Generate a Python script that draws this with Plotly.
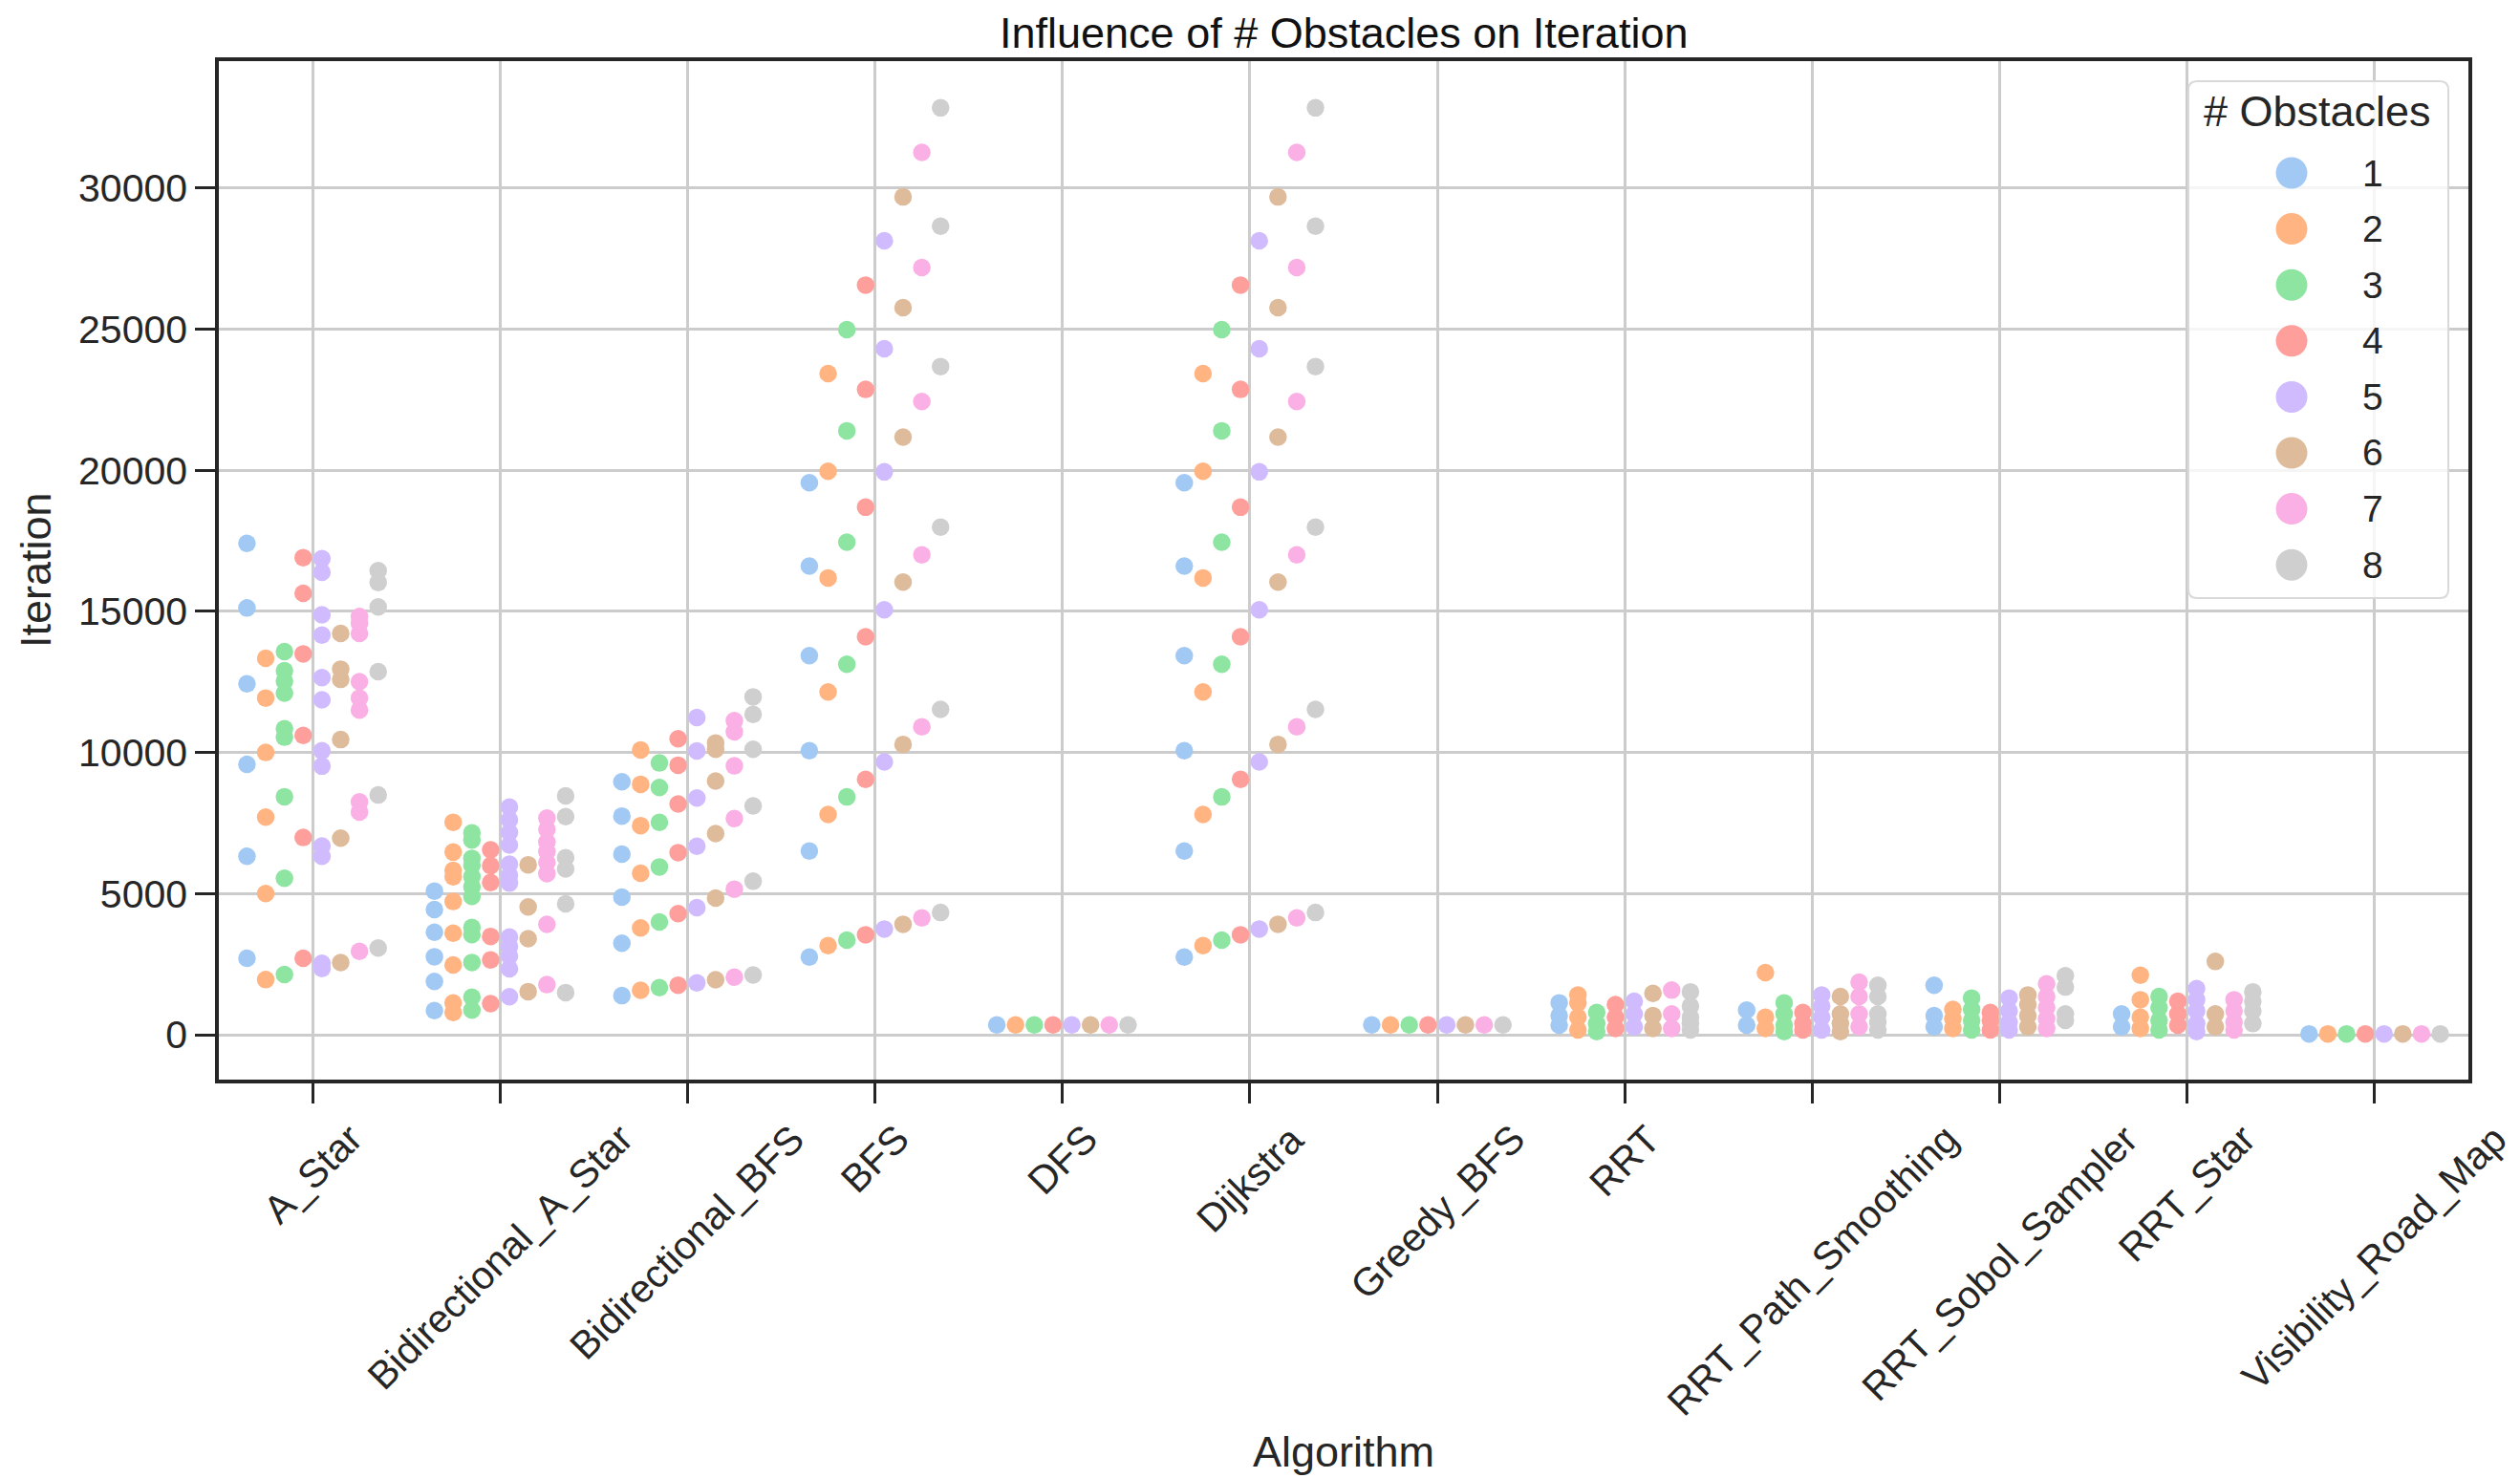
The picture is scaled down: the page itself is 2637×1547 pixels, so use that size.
import plotly.graph_objects as go

# ---------------- data ----------------
algorithms = ["A_Star", "Bidirectional_A_Star", "Bidirectional_BFS", "BFS", "DFS",
              "Dijkstra", "Greedy_BFS", "RRT", "RRT_Path_Smoothing",
              "RRT_Sobol_Sampler", "RRT_Star", "Visibility_Road_Map"]
obstacles = ["1", "2", "3", "4", "5", "6", "7", "8"]
palette = ["#a1c9f4", "#ffb482", "#8de5a1", "#ff9f9b",
           "#d0bbff", "#debb9b", "#fab0e4", "#cfcfcf"]

# one list per # obstacles (1..8) for each algorithm
a_star = [
    [17410, 15120, 12434, 9578, 6325, 2711],
    [13337, 11928, 10000, 7711, 5000, 1952],
    [13578, 12900, 12530, 12100, 10843, 10542, 8434, 5542, 2133],
    [16904, 15639, 13494, 10602, 6988, 2711],
    [16867, 16386, 14880, 14157, 12651, 11867, 10060, 9518, 6687, 6325, 2530, 2349],
    [14217, 12952, 12590, 10458, 6964, 2554],
    [14819, 14578, 14217, 12506, 11928, 11506, 8253, 7892, 2952],
    [16446, 16024, 15157, 12867, 8494, 3072],
]
bidirectional_a_star = [
    [5090, 4438, 3629, 2764, 1888, 854],
    [7528, 6472, 5820, 5596, 4719, 3596, 2472, 1124, 787],
    [7150, 6900, 6250, 6000, 5600, 5250, 4900, 3800, 3550, 2560, 1330, 870],
    [6551, 5989, 5393, 3483, 2652, 1101],
    [8067, 7618, 7169, 6719, 6045, 5652, 5371, 3461, 3124, 2787, 2337, 1348],
    [6022, 4528, 3404, 1528],
    [7674, 7281, 6831, 6494, 6101, 5708, 3910, 1775],
    [8461, 7730, 6270, 5876, 4640, 1494],
]
bidirectional_bfs = [
    [8964, 7748, 6396, 4876, 3243, 1385],
    [10090, 8874, 7410, 5721, 3784, 1577],
    [9628, 8761, 7523, 5946, 3998, 1667],
    [10484, 9550, 8176, 6453, 4291, 1757],
    [11239, 10056, 8390, 6678, 4505, 1836],
    [10338, 10113, 8986, 7128, 4842, 1948],
    [11126, 10732, 9527, 7658, 5158, 2038],
    [11971, 11351, 10113, 8108, 5439, 2117],
]
bfs = [
    [19560, 16606, 13433, 10061, 6508, 2752],
    [23427, 19966, 16185, 12147, 7805, 3158],
    [24983, 21398, 17452, 13129, 8426, 3350],
    [26561, 22864, 18692, 14099, 9046, 3542],
    [28129, 24307, 19944, 15057, 9666, 3745],
    [29684, 25761, 21172, 16039, 10287, 3914],
    [31263, 27181, 22435, 17001, 10907, 4139],
    [32841, 28647, 23675, 17982, 11527, 4331],
]
dfs = [[350], [350], [350], [350], [350], [350], [350], [350]]
dijkstra = [
    [19560, 16606, 13433, 10061, 6508, 2752],
    [23427, 19966, 16185, 12147, 7805, 3158],
    [24983, 21398, 17452, 13129, 8426, 3350],
    [26561, 22864, 18692, 14099, 9046, 3542],
    [28129, 24307, 19944, 15057, 9666, 3745],
    [29684, 25761, 21172, 16039, 10287, 3914],
    [31263, 27181, 22435, 17001, 10907, 4139],
    [32841, 28647, 23675, 17982, 11527, 4331],
]
greedy_bfs = [[350], [350], [350], [350], [350], [350], [350], [350]]
rrt = [
    [1130, 680, 340],
    [1410, 1130, 620, 170],
    [790, 395, 110],
    [1070, 620, 225],
    [1185, 735, 280],
    [1467, 680, 225],
    [1580, 735, 225],
    [1520, 1015, 620, 395, 170],
]
rrt_path_smoothing = [
    [870, 340],
    [2200, 620, 225],
    [1130, 735, 340, 110],
    [790, 395, 170],
    [1410, 1015, 620, 170],
    [1355, 735, 395, 110],
    [1862, 1355, 735, 280],
    [1750, 1355, 735, 450, 170],
]
rrt_sobol_sampler = [
    [1750, 680, 280],
    [900, 565, 225],
    [1300, 900, 510, 170],
    [790, 510, 170],
    [1300, 845, 450, 170],
    [1410, 1070, 680, 280],
    [1805, 1355, 960, 565, 225],
    [2090, 1690, 735, 510],
]
rrt_star = [
    [735, 280],
    [2110, 1240, 620, 225],
    [1355, 960, 510, 170],
    [1185, 735, 340],
    [1636, 1240, 845, 395, 110],
    [2596, 735, 280],
    [1240, 845, 450, 170],
    [1520, 1185, 845, 395],
]
visibility_road_map = [[30], [30], [30], [30], [30], [30], [30], [30]]

all_values = [a_star, bidirectional_a_star, bidirectional_bfs, bfs, dfs, dijkstra,
              greedy_bfs, rrt, rrt_path_smoothing, rrt_sobol_sampler, rrt_star,
              visibility_road_map]
y_ticks = [0, 5000, 10000, 15000, 20000, 25000, 30000]

# ---------------- geometry helpers (page pixel coordinates) ----------------
PAGE_W, PAGE_H = 2637, 1547
BODY = 8                      # default body margin of the html page
BOX_L, BOX_R, BOX_T, BOX_B = 229, 2583, 64, 1130   # plot frame on the page
W, H = PAGE_W - BODY, PAGE_H - BODY
ML = BOX_L - BODY
MT = BOX_T - BODY
MR = W + BODY - BOX_R
MB = H + BODY - BOX_B
PW, PH = BOX_R - BOX_L, BOX_B - BOX_T


def px_x(px):
    return (px - BOX_L) / PW


def px_y(py):
    return (BOX_B - py) / PH


FONT = "Liberation Sans, Arial, Helvetica, sans-serif"
TXT = "#262626"

fig = go.Figure()

# dodge offsets (seaborn: width 0.8 split over 8 hues)
n_h = len(obstacles)
offsets = [-0.4 + 0.1 * (k + 0.5) for k in range(n_h)]

for k, name in enumerate(obstacles):
    xs, ys = [], []
    for i, alg_vals in enumerate(all_values):
        for v in alg_vals[k]:
            xs.append(i + offsets[k])
            ys.append(v)
    fig.add_trace(go.Scatter(
        x=xs, y=ys, mode="markers", name=name, showlegend=False,
        marker=dict(size=18.5, color=palette[k], line=dict(width=0)),
        hovertemplate="%{y}<extra>" + name + "</extra>",
    ))

annotations = []
# x tick labels (matplotlib style: rotated 45, centred under the tick)
for i, a in enumerate(algorithms):
    annotations.append(dict(
        x=i, xref="x", y=0, yref="paper", yshift=-36,
        text=a, textangle=-45, xanchor="center", yanchor="top",
        showarrow=False, font=dict(size=41, color=TXT, family=FONT)))

# titles
annotations.append(dict(x=0.5, xref="paper", y=px_y(8), yref="paper",
                        text="Influence of # Obstacles on Iteration", showarrow=False,
                        xanchor="center", yanchor="top", borderpad=0,
                        font=dict(size=45, color="#111111", family=FONT)))
annotations.append(dict(x=0.5, xref="paper", y=px_y(1519), yref="paper",
                        text="Algorithm", showarrow=False,
                        xanchor="center", yanchor="middle",
                        font=dict(size=45, color=TXT, family=FONT)))
annotations.append(dict(x=px_x(37), xref="paper", y=0.5, yref="paper",
                        text="Iteration", showarrow=False, textangle=-90,
                        xanchor="center", yanchor="middle",
                        font=dict(size=45, color=TXT, family=FONT)))

# custom legend (matplotlib-like, rounded frame)
shapes = []
lx0, lx1, ly0, ly1 = 2290, 2562, 85, 626
r = 9
X0, X1 = px_x(lx0), px_x(lx1)
Y0, Y1 = px_y(ly1), px_y(ly0)
rx, ry = r / PW, r / PH
path = (f"M {X0+rx},{Y1} L {X1-rx},{Y1} Q {X1},{Y1} {X1},{Y1-ry} "
        f"L {X1},{Y0+ry} Q {X1},{Y0} {X1-rx},{Y0} "
        f"L {X0+rx},{Y0} Q {X0},{Y0} {X0},{Y0+ry} "
        f"L {X0},{Y1-ry} Q {X0},{Y1} {X0+rx},{Y1} Z")
shapes.append(dict(type="path", xref="paper", yref="paper", path=path,
                   fillcolor="rgba(255,255,255,0.8)",
                   line=dict(color="#d9d9d9", width=2), layer="above"))
annotations.append(dict(x=px_x(2425), xref="paper", y=px_y(117), yref="paper",
                        text="# Obstacles", showarrow=False,
                        xanchor="center", yanchor="middle",
                        font=dict(size=45, color=TXT, family=FONT)))
for k, name in enumerate(obstacles):
    cy = 181 + 58.6 * k
    shapes.append(dict(type="circle", xref="paper", yref="paper",
                       xsizemode="pixel", ysizemode="pixel",
                       xanchor=px_x(2398), yanchor=px_y(cy),
                       x0=-16.5, x1=16.5, y0=-16.5, y1=16.5,
                       fillcolor=palette[k], line=dict(width=0), layer="above"))
    annotations.append(dict(x=px_x(2483), xref="paper", y=px_y(cy), yref="paper",
                            text=name, showarrow=False,
                            xanchor="center", yanchor="middle",
                            font=dict(size=39, color=TXT, family=FONT)))

fig.update_layout(
    width=W, height=H,
    margin=dict(l=ML, r=MR, t=MT, b=MB, pad=0, autoexpand=False),
    paper_bgcolor="white", plot_bgcolor="white",
    font=dict(family=FONT, color=TXT),
    showlegend=False,
    annotations=annotations,
    shapes=shapes,
    xaxis=dict(range=[-0.5, 11.5], tickmode="array",
               tickvals=list(range(len(algorithms))), showticklabels=False,
               ticks="outside", ticklen=21, tickwidth=3, tickcolor=TXT,
               showgrid=True, gridcolor="#cccccc", gridwidth=2.5,
               showline=True, mirror=True, linecolor=TXT, linewidth=3.5,
               zeroline=False),
    yaxis=dict(range=[-1590, 34495], tickmode="array", tickvals=y_ticks,
               ticktext=[str(t) for t in y_ticks],
               tickfont=dict(size=41, color=TXT, family=FONT),
               ticks="outside", ticklen=21, tickwidth=3, tickcolor=TXT,
               showgrid=True, gridcolor="#cccccc", gridwidth=2.5,
               showline=True, mirror=True, linecolor=TXT, linewidth=3.5,
               zeroline=False),
)

fig.write_html("out.html")
